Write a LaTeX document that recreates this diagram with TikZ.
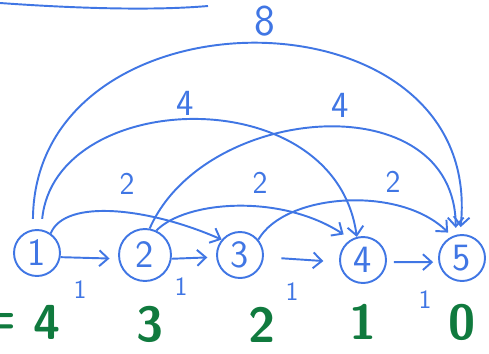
\documentclass[tikz,border=0pt]{standalone}
\usetikzlibrary{arrows.meta}

\definecolor{pen}{RGB}{64,118,228}
\definecolor{ink}{RGB}{16,122,62}

\tikzset{
    vtx/.style={circle, draw=pen, text=pen, inner sep=0pt, minimum size=0.92cm,
        font=\sffamily\fontsize{22}{22}\selectfont},
    wt/.style={text=pen, inner sep=0pt, font=\sffamily\fontsize{#1}{#1}\selectfont},
    dist/.style={text=ink, inner sep=0pt, font=\sffamily\bfseries\fontsize{28}{28}\selectfont},
}

\begin{document}
\begin{tikzpicture}[x=0.02cm, y=0.02cm, >={Straight Barb[length=5pt,width=9pt]}, line width=1.1pt]
    \useasboundingbox (0,0) rectangle (489,353);

    % stroke at the top
    \draw[pen] (0,350) .. controls (70,345) and (150,342) .. (208,347);

    % vertices
    \node[vtx] (n1) at (37,100) {1};
    \node[vtx, minimum size=1.04cm] (n2) at (145,98) {2};
    \node[vtx] (n3) at (240,98) {3};
    \node[vtx] (n4) at (363,93) {4};
    \node[vtx] (n5) at (462,95) {5};

    % steps of length 1
    \draw[pen, ->, shorten >=5pt] (n1.-10) -- (n2.188);
    \draw[pen, ->, shorten >=5pt] (n2.-8) -- (n3.185);
    \draw[pen, ->, shorten <=10pt, shorten >=9pt] (n3.-5) -- (n4.185);
    \draw[pen, ->, shorten <=4pt, shorten >=3pt] (n4.-5) -- (n5.190);

    % jumps of length 2
    \draw[pen, ->] (n1.55) .. controls (65,155) and (150,145) .. (n3.140);
    \draw[pen, ->, shorten >=5pt] (n2.65) .. controls (185,152) and (280,160) .. (n4.120);
    \draw[pen, ->, shorten >=3pt] (n3.40) .. controls (285,160) and (400,168) .. (n5.115);

    % jumps of length 4
    \draw[pen, ->, shorten <=6pt] (n1.80) .. controls (55,265) and (335,275) .. (n4.105);
    \draw[pen, ->, shorten >=4pt] (n2.80) .. controls (205,250) and (455,270) .. (n5.105);

    % jump of length 8
    \draw[pen, ->, shorten <=6pt, shorten >=4pt] (n1.100) .. controls (35,370) and (485,370) .. (n5.95);

    % weights
    \node[wt=25] (w8) at (265,332) {8};
    \node[wt=21] (w4a) at (185,250) {4};
    \node[wt=21] (w4b) at (340,248) {4};
    \node[wt=18] (w2a) at (127,169) {2};
    \node[wt=18] (w2b) at (260,170) {2};
    \node[wt=18] (w2c) at (393,171) {2};
    \node[wt=15] (w1a) at (80,63) {1};
    \node[wt=15] (w1b) at (181,66) {1};
    \node[wt=15] (w1c) at (292,61) {1};
    \node[wt=15] (w1d) at (425,53) {1};

    % distances to 5
    \node[dist, anchor=east] (eq) at (18,30) {=};
    \node[dist] (d1) at (47,31) {4};
    \node[dist] (d2) at (150,29) {3};
    \node[dist] (d3) at (262,28) {2};
    \node[dist] (d4) at (363,31) {1};
    \node[dist] (d5) at (462,31) {0};
\end{tikzpicture}
\end{document}
